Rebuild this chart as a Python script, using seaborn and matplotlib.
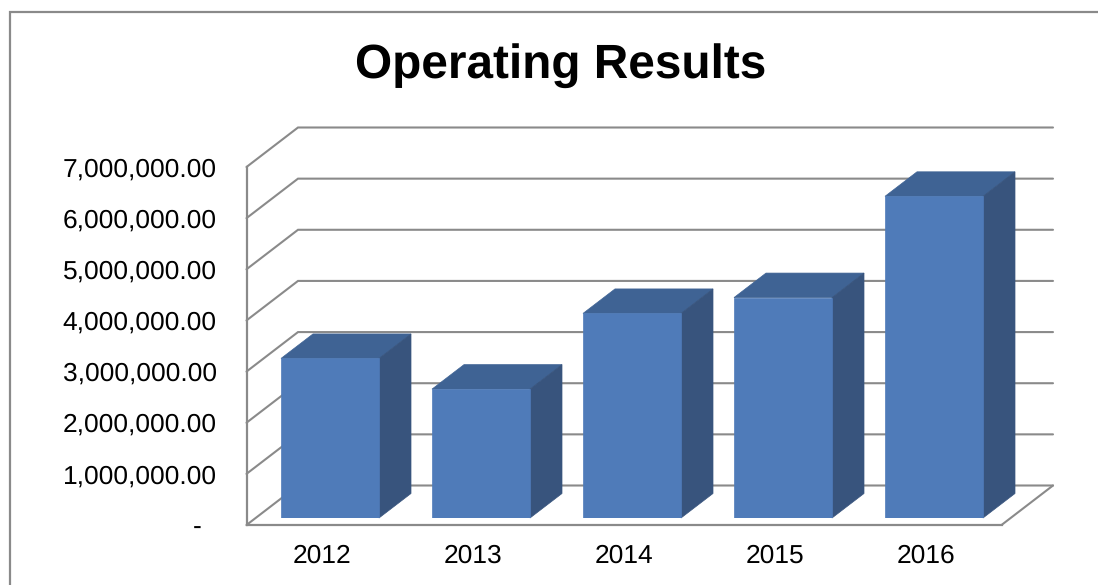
import matplotlib
matplotlib.use("Agg")
import matplotlib.pyplot as plt
import pandas as pd
import seaborn as sns
from matplotlib.lines import Line2D

# Operating results by year
years = ["2012", "2013", "2014", "2015", "2016"]
results = [3120000, 2520000, 4000000, 4310000, 6290000]
y_ticks = [0, 1000000, 2000000, 3000000, 4000000, 5000000, 6000000, 7000000]
y_labels = ["-  ", "1,000,000.00", "2,000,000.00", "3,000,000.00", "4,000,000.00",
            "5,000,000.00", "6,000,000.00", "7,000,000.00"]

W, H = 1098, 585
GRID = "#8a8a8a"
FRONT, TOP, SIDE = "#4f7bb9", "#3f6394", "#38547d"

sns.set_theme(style="white")
plt.rcParams["font.family"] = ["Liberation Sans", "DejaVu Sans"]
plt.rcParams["text.hinting"] = "no_hinting"

fig = plt.figure(figsize=(W / 100, H / 100), dpi=100, facecolor="white")


def pixel_axes(left, right, top, bottom):
    return fig.add_axes([left / W, 1 - bottom / H, (right - left) / W, (bottom - top) / H])


# Front plane of the pseudo-3D plot box: carries the axis lines and labels
ax = pixel_axes(246.5, 1001.5, 167, 525)
ax.set_xlim(-0.5, 4.5)
ax.set_ylim(0, 7000000)
ax.patch.set_alpha(0)

per_cat = 755 / 5
per_val = 358 / 7000000
wall_dx, wall_dy = 51.5 / per_cat, 39.5 / per_val

# Back wall gridlines with their slanted returns to the front plane
for v in y_ticks:
    ax.plot([-0.5, -0.5 + wall_dx, 4.5 + wall_dx],
            [v, v + wall_dy, v + wall_dy],
            color=GRID, lw=1.5, clip_on=False, solid_joinstyle="miter", zorder=1)
ax.plot([4.5, 4.5 + wall_dx], [0, wall_dy], color=GRID, lw=1.5, clip_on=False, zorder=1)

ax.set_xticks(range(len(years)), years)
ax.set_yticks(y_ticks, y_labels)
ax.tick_params(axis="both", length=0, labelsize=19, colors="black")
ax.tick_params(axis="x", pad=13.5)
ax.tick_params(axis="y", pad=21.5)
for side in ("top", "right"):
    ax.spines[side].set_visible(False)
for side in ("left", "bottom"):
    ax.spines[side].set_color(GRID)
    ax.spines[side].set_linewidth(1.6)

# Bars stand slightly behind the front plane
bar_ax = pixel_axes(254.5, 1009.5, 160, 518)
frame = pd.DataFrame({"year": years, "result": results})
sns.barplot(data=frame, x="year", y="result", color=FRONT, saturation=1,
            width=98 / per_cat, ax=bar_ax, zorder=3, edgecolor=FRONT, linewidth=0.5)
bar_ax.set_xlim(-0.5, 4.5)
bar_ax.set_ylim(0, 7000000)
bar_ax.axis("off")

depth_dx, depth_dy = 32 / per_cat, 24.5 / per_val
half = 98 / per_cat / 2
for i, value in enumerate(results):
    left, right = i - half, i + half
    bar_ax.fill([left, left + depth_dx, right + depth_dx, right],
                [value, value + depth_dy, value + depth_dy, value],
                facecolor=TOP, edgecolor=TOP, lw=0.5, clip_on=False, zorder=2.5)
    bar_ax.fill([right, right + depth_dx, right + depth_dx, right],
                [0, depth_dy, value + depth_dy, value],
                facecolor=SIDE, edgecolor=SIDE, lw=0.5, clip_on=False, zorder=2.6)

fig.text(561 / W, 1 - 66 / H, "Operating Results", fontsize=34.4, fontweight="bold",
         color="black", ha="center", va="center")

# Chart border: only the top and left edges fall inside the frame
fig.add_artist(Line2D([9.5 / W, 9.5 / W, 1.0], [0.0, 1 - 12 / H, 1 - 12 / H],
                      transform=fig.transFigure, color=GRID, lw=1.6,
                      solid_joinstyle="miter"))

fig.savefig("out.png", dpi=100)
